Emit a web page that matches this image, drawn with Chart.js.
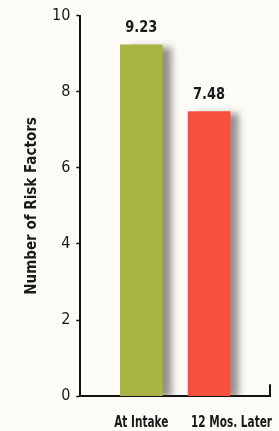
<!DOCTYPE html>
<html>
<head>
<meta charset="utf-8">
<script src="https://cdn.jsdelivr.net/npm/chart.js@4"></script>
<style>
  html, body { margin: 0; padding: 0; background: #fcfbf5; }
  #wrap { width: 279px; height: 431px; position: relative; }
</style>
</head>
<body>
<div id="wrap"><canvas id="riskChart" width="279" height="431"></canvas></div>
<script>
const categories = ['At Intake', '12 Mos. Later'];
const riskFactors = [9.23, 7.48];
const barColors = ['#a8b545', '#f8503f'];
const yTicks = [0, 2, 4, 6, 8, 10];

const FONT = '"Liberation Sans Narrow", "DejaVu Sans Condensed", sans-serif';
const SQUEEZE = 0.78; // the printed labels use a very narrow face

// soft drop shadow to the right of each bar
const barShadow = {
  id: 'barShadow',
  beforeDatasetsDraw(chart) {
    const c = chart.ctx;
    c.save();
    c.shadowColor = 'rgba(60, 55, 50, 0.55)';
    c.shadowOffsetX = 9;
    c.shadowOffsetY = 2;
    c.shadowBlur = 7;
  },
  afterDatasetsDraw(chart) {
    chart.ctx.restore();
  }
};

// value labels, category labels, end tick on x axis
const extras = {
  id: 'extras',
  afterDraw(chart) {
    const c = chart.ctx;
    const a = chart.chartArea;
    const meta = chart.getDatasetMeta(0);
    c.save();
    c.fillStyle = '#1a1a1a';
    c.font = 'bold 16px ' + FONT;
    c.textAlign = 'center';
    c.textBaseline = 'bottom';
    meta.data.forEach((bar, i) => {
      c.save();
      c.translate(bar.x, bar.y - 9);
      c.scale(0.9, 1);
      c.fillText(riskFactors[i].toFixed(2), 0, 0);
      c.restore();
    });

    // first label sits under its bar, the last one runs to the end of the axis
    c.font = 'bold 15px ' + FONT;
    c.textBaseline = 'middle';
    meta.data.forEach((bar, i) => {
      const w = c.measureText(categories[i]).width * SQUEEZE;
      let cx = bar.x;
      if (i === categories.length - 1) cx = a.right + 2 - w / 2;
      c.save();
      c.translate(cx, a.bottom + 27);
      c.scale(SQUEEZE, 1);
      c.fillText(categories[i], 0, 0);
      c.restore();
    });

    c.strokeStyle = '#111';
    c.lineWidth = 2;
    c.beginPath();
    c.moveTo(a.right, a.bottom);
    c.lineTo(a.right, a.bottom - 12);
    c.stroke();
    c.restore();
  }
};

new Chart(document.getElementById('riskChart'), {
  type: 'bar',
  data: {
    datasets: [{
      data: riskFactors.map((v, i) => ({ x: i, y: v })),
      backgroundColor: barColors,
      borderWidth: 0,
      barThickness: 42
    }]
  },
  options: {
    responsive: false,
    animation: false,
    layout: { padding: { top: 15, right: 9, bottom: 10, left: 23 } },
    plugins: { legend: { display: false }, tooltip: { enabled: false } },
    scales: {
      x: {
        type: 'linear',
        offset: false,
        min: -0.9,
        max: 1.9,
        afterBuildTicks(axis) { axis.ticks = categories.map((_, i) => ({ value: i })); },
        ticks: {
          callback: (v) => categories[v],
          color: 'rgba(0,0,0,0)',
          font: { family: FONT, size: 14, weight: 'bold' },
          padding: 0,
          maxRotation: 0,
          autoSkip: false
        },
        grid: { display: false },
        border: { color: '#111', width: 2 }
      },
      y: {
        min: 0,
        max: 10,
        afterBuildTicks(axis) { axis.ticks = yTicks.map(v => ({ value: v })); },
        ticks: {
          color: '#1a1a1a',
          font: { family: FONT, size: 16 },
          padding: 6
        },
        grid: {
          drawOnChartArea: false,
          drawTicks: true,
          tickLength: 4,
          tickColor: '#111',
          tickWidth: 1.5
        },
        border: { color: '#111', width: 2 },
        title: {
          display: true,
          text: 'Number of Risk Factors',
          color: '#1a1a1a',
          font: { family: FONT, size: 15, weight: 'bold' },
          padding: { top: 0, bottom: 5 }
        }
      }
    }
  },
  plugins: [barShadow, extras]
});
</script>
</body>
</html>
